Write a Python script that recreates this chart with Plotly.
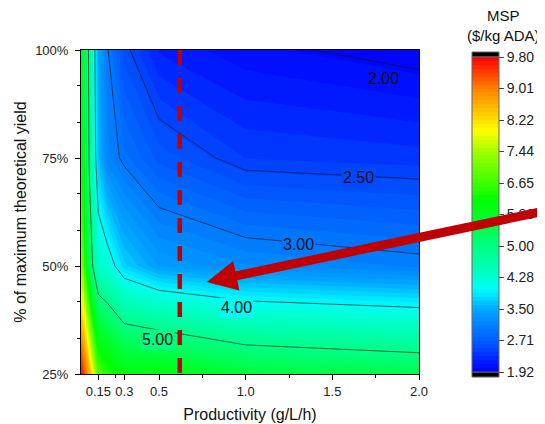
import plotly.graph_objects as go

# ---------------- data ----------------
productivity = [0.05, 0.1, 0.15, 0.2, 0.3, 0.5, 1.0, 2.0]      # g/L/h
yield_pct = [25, 50, 75, 100]                                   # % of max theoretical yield
msp = [                                                         # $/kg ADA, rows follow yield_pct
    [9.80, 8.60, 6.80, 6.50, 6.11, 6.10, 5.66, 5.47],
    [7.30, 5.33, 4.36, 4.23, 3.73, 3.39, 3.21, 3.08],
    [6.40, 4.88, 3.62, 3.15, 2.94, 2.67, 2.41, 2.36],
    [6.00, 4.84, 3.44, 3.03, 2.56, 2.20, 2.05, 1.92],
]
x_tickvals = [0.15, 0.3, 0.5, 1.0, 1.5, 2.0]
x_ticktext = ["0.15", "0.3", "0.5", "1.0", "1.5", "2.0"]
x_minor_ticks = [0.25, 0.75, 1.25, 1.75]
y_tickvals = [25, 50, 75, 100]
y_ticktext = ["25%", "50%", "75%", "100%"]
y_minor_ticks = [33.33, 41.67, 58.33, 66.67, 83.33, 91.67]
cbar_min, cbar_max = 1.92, 9.80
cbar_tickvals = [1.92, 2.708, 3.496, 4.284, 5.072, 5.86, 6.648, 7.436, 8.224, 9.012, 9.80]
cbar_ticktext = ["1.92", "2.71", "3.50", "4.28", "5.00", "5.86", "6.65", "7.44", "8.22", "9.01", "9.80"]
fill_levels = 80
line_levels = [2.0, 2.5, 3.0, 4.0, 5.0]
label_text = ["2.00", "2.50", "3.00", "4.00", "5.00"]
label_x = [1.794, 1.649, 1.302, 0.948, 0.493]
label_y = [93.5, 70.4, 54.9, 40.5, 33.1]
label_breaks_line = [False, True, True, True, True]
current_productivity = 0.62
arrow_target = (0.776, 46.3)

# ---------------- layout constants (screen pixels) ----------------
OFF = 8                      # default page margin of the html body
W, H = 545 - OFF, 424 - OFF
L, R, T, B = 81, 419, 50, 374
PW, PH = R - L, B - T
FONT = "Liberation Sans, Arial, sans-serif"
RED = "#C00000"


def px_x(p):
    return (p - L) / PW


def px_y(p):
    return (B - p) / PH


colorscale = [
    [0.00, "#0000FF"],
    [0.03, "#0018FF"],
    [0.074, "#0048FF"],
    [0.137, "#0078FF"],
    [0.20, "#00A8FF"],
    [0.25, "#00F0FF"],
    [0.27, "#00FFF0"],
    [0.30, "#00FFD0"],
    [0.40, "#00FF80"],
    [0.50, "#00FF20"],
    [0.55, "#00FF00"],
    [0.60, "#40FF00"],
    [0.70, "#A0FF00"],
    [0.765, "#FFFF00"],
    [0.90, "#FF8000"],
    [1.00, "#FF0000"],
]


def scale_color(v):
    t = (v - cbar_min) / (cbar_max - cbar_min)
    for (t0, c0), (t1, c1) in zip(colorscale[:-1], colorscale[1:]):
        if t0 <= t <= t1:
            f = (t - t0) / (t1 - t0) if t1 > t0 else 0
            a = [int(c0[i:i + 2], 16) for i in (1, 3, 5)]
            b = [int(c1[i:i + 2], 16) for i in (1, 3, 5)]
            return "rgb(%d,%d,%d)" % tuple(round(a[k] + f * (b[k] - a[k])) for k in range(3))
    return colorscale[-1][1]


cb_top, cb_bot = 57, 372
fig = go.Figure()
fig.add_trace(go.Contour(
    x=productivity, y=yield_pct, z=msp,
    colorscale=colorscale, zmin=cbar_min, zmax=cbar_max,
    contours=dict(coloring="fill", start=cbar_min, end=cbar_max,
                  size=(cbar_max - cbar_min) / fill_levels, showlines=False),
    line=dict(width=0, smoothing=0),
    colorbar=dict(
        x=px_x(472), xanchor="left", xpad=0,
        y=px_y((cb_top + cb_bot) / 2), yanchor="middle", ypad=0,
        len=cb_bot - cb_top, lenmode="pixels", thickness=27,
        outlinewidth=1, outlinecolor="#666",
        tickmode="array", tickvals=cbar_tickvals, ticktext=cbar_ticktext,
        ticks="outside", ticklen=5, tickwidth=1, tickcolor="#444",
        tickfont=dict(family=FONT, size=14, color="#222"),
    ),
    hoverinfo="skip",
))
for lv in line_levels:
    fig.add_trace(go.Contour(
        x=productivity, y=yield_pct, z=msp, showscale=False,
        contours=dict(coloring="none", start=lv, end=lv, size=1, showlabels=False),
        line=dict(color="rgba(20,20,20,0.8)", width=0.8, smoothing=0),
        hoverinfo="skip",
    ))

# contour labels (horizontal, the line is hidden under the label)
for txt, lx, ly, brk, lv in zip(label_text, label_x, label_y, label_breaks_line, line_levels):
    fig.add_annotation(x=lx, y=ly, xref="x", yref="y", text=txt, showarrow=False,
                       xanchor="center", yanchor="middle", borderpad=1,
                       bgcolor=scale_color(lv) if brk else "rgba(0,0,0,0)",
                       font=dict(family=FONT, size=16, color="#111"))

# dashed vertical line at current productivity
fig.add_shape(type="line", xref="x", yref="y",
              x0=current_productivity, x1=current_productivity,
              y0=max(yield_pct), y1=min(yield_pct),
              line=dict(color=RED, width=4.5, dash="15px,13px"))

# black caps on the colour bar
for y0, y1 in ((cb_top - 5, cb_top), (cb_bot, cb_bot + 5)):
    fig.add_shape(type="rect", xref="paper", yref="paper",
                  x0=px_x(472), x1=px_x(499), y0=px_y(y1), y1=px_y(y0),
                  fillcolor="black", line=dict(color="#666", width=1))

# arrow
fig.add_annotation(x=arrow_target[0], y=arrow_target[1], xref="x", yref="y",
                   text="", showarrow=True, ax=393, ay=-71,
                   arrowcolor=RED, arrowwidth=9, arrowhead=2, arrowsize=0.67)

# colour bar title
fig.add_annotation(x=px_x(503), y=px_y(26), xref="paper", yref="paper",
                   text="MSP<br>($/kg ADA)", showarrow=False,
                   xanchor="center", yanchor="middle",
                   font=dict(family=FONT, size=15, color="#111"))

axis_common = dict(showline=True, linecolor="black", linewidth=1, mirror=True,
                   ticks="outside", ticklen=5, tickwidth=1, tickcolor="black",
                   showgrid=False, zeroline=False,
                   tickfont=dict(family=FONT, size=13, color="#222"))
fig.update_xaxes(range=[min(productivity), max(productivity)],
                 tickmode="array", tickvals=x_tickvals, ticktext=x_ticktext,
                 minor=dict(tickmode="array", tickvals=x_minor_ticks, ticks="outside",
                            ticklen=3, tickcolor="black"),
                 title=dict(text="Productivity (g/L/h)", standoff=11,
                            font=dict(family=FONT, size=16, color="#111")),
                 **axis_common)
fig.update_yaxes(range=[min(yield_pct), max(yield_pct)],
                 tickmode="array", tickvals=y_tickvals, ticktext=y_ticktext,
                 ticklabelstandoff=4,
                 minor=dict(tickmode="array", tickvals=y_minor_ticks, ticks="outside",
                            ticklen=3, tickcolor="black"),
                 title=dict(text="% of maximum theoretical yield", standoff=4,
                            font=dict(family=FONT, size=16, color="#111")),
                 **axis_common)
fig.update_layout(
    width=W, height=H,
    margin=dict(l=L - OFF, r=W - (R - OFF), t=T - OFF, b=H - (B - OFF), autoexpand=False),
    paper_bgcolor="white", plot_bgcolor="white",
    font=dict(family=FONT),
    showlegend=False,
)
fig.write_html("out.html")
